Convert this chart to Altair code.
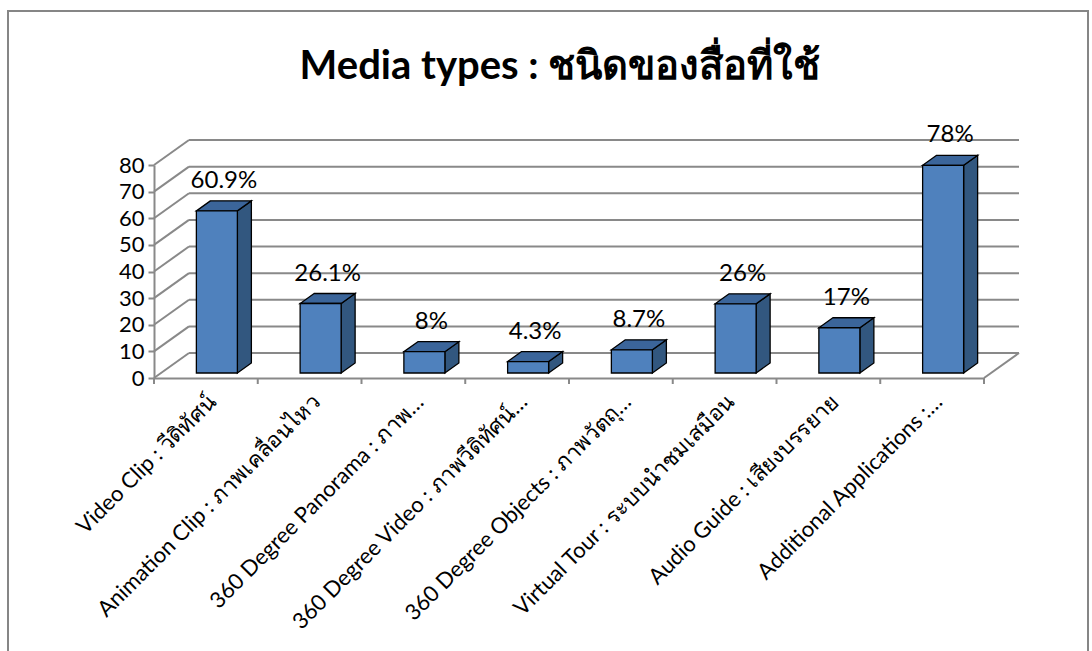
import json
import altair as alt
import pandas as pd

# ---- chart values -------------------------------------------------------
categories = [
    "Video Clip : วีดิทัศน์",
    "Animation Clip : ภาพเคลื่อนไหว",
    "360 Degree Panorama : ภาพ…",
    "360 Degree Video : ภาพวีดิทัศน์…",
    "360 Degree Objects : ภาพวัตถุ…",
    "Virtual Tour : ระบบนำชมเสมือน",
    "Audio Guide : เสียงบรรยาย",
    "Additional Applications :…",
]
values = [60.9, 26.1, 8, 4.3, 8.7, 26, 17, 78]
y_ticks = [0, 10, 20, 30, 40, 50, 60, 70, 80]
title_text = "Media types : ชนิดของสื่อที่ใช้"

# ---- layout / style -----------------------------------------------------
W, H = 830, 213                      # front plane of the plot
PAD = {"left": 154, "top": 165, "right": 1092 - 154 - 830, "bottom": 651 - 165 - 213}
N = len(categories)
Y_MAX = 80
PX = W / N                           # pixels per category
PY = H / Y_MAX                       # pixels per value unit

WALL_DX, WALL_DY = 35 / PX, 25 / PY  # depth of the floor / back wall
FACE_DX, FACE_DY = 11 / PX, 5 / PY   # where the bar front faces sit
BAR_HW = 20.5 / PX                   # half width of a bar
BAR_DX, BAR_DY = 14 / PX, 10 / PY    # depth of a bar

FRONT = "#4F81BD"
TOP = "#3B659A"
SIDE = "#32577F"
GRID = "#898989"
FONT = "Lato"

xs = alt.Scale(domain=[0, N], nice=False, zero=False)
ys = alt.Scale(domain=[0, Y_MAX], nice=False, zero=False)

label_expr = json.dumps(categories, ensure_ascii=False) + "[floor(datum.value)]"
x_axis = alt.Axis(
    values=[i + 0.5 for i in range(N)], labelExpr=label_expr, title=None,
    labelAngle=-45, labelAlign="right", labelBaseline="middle",
    labelPadding=20, labelOffset=6, tickSize=0, labelFontSize=22, labelFont=FONT,
    labelColor="black", domainColor=GRID, domainWidth=2,
    labelOverlap=False, labelLimit=400, grid=False, zindex=1,
)
y_axis = alt.Axis(
    values=y_ticks, title=None, tickSize=6, tickColor=GRID, tickWidth=2,
    labelPadding=4, labelFontSize=22, labelFont=FONT, labelColor="black",
    domainColor=GRID, domainWidth=2, grid=False, zindex=1,
)


def X(field):
    return alt.X(field, scale=xs, axis=x_axis)


def Y(field):
    return alt.Y(field, scale=ys, axis=y_axis)


# ---- data tables --------------------------------------------------------
bars = pd.DataFrame({"i": range(N), "cat": categories, "v": values})
bars["c"] = bars["i"] + 0.5 + FACE_DX
bars["x0"] = bars["c"] - BAR_HW
bars["x1"] = bars["c"] + BAR_HW
bars["y0"] = FACE_DY
bars["y1"] = bars["v"] + FACE_DY
bars["lx"] = bars["c"] + BAR_DX / 2
bars["ly"] = bars["y1"] + BAR_DY
bars["label"] = [f"{v:g}%" for v in values]

rows = []
for _, b in bars.iterrows():
    for k in (0, 1):
        rows.append({
            "i": b["i"],
            # side face (vertical parallelogram)
            "sx": b["x1"] + k * BAR_DX,
            "sy0": b["y0"] + k * BAR_DY,
            "sy1": b["y1"] + k * BAR_DY,
            # top face (horizontal parallelogram)
            "ty": b["y1"] + k * BAR_DY,
            "tx0": b["x0"] + k * BAR_DX,
            "tx1": b["x1"] + k * BAR_DX,
        })
faces = pd.DataFrame(rows)

grid = pd.DataFrame({"t": y_ticks})
grid["wx0"] = 0.0
grid["wx1"] = WALL_DX
grid["wy1"] = grid["t"] + WALL_DY
grid["bx1"] = N + WALL_DX

floor_edge = pd.DataFrame({"x0": [N], "y0": [0], "x1": [N + WALL_DX], "y1": [WALL_DY]})
xticks = pd.DataFrame({"b": list(range(N + 1))})
xticks["y0"] = 0.0
xticks["y1"] = -6 / PY

# ---- layers ------------------------------------------------------------
frame = alt.Chart(pd.DataFrame({"f": [0]})).mark_rect(
    fill="transparent", stroke="#868686", strokeWidth=2
).encode(
    x=alt.value(-146), x2=alt.value(934), y=alt.value(-154), y2=alt.value(520)
)

left_wall = alt.Chart(grid).mark_rule(color=GRID, strokeWidth=2).encode(
    x=X("wx0:Q"), x2="wx1:Q", y=Y("t:Q"), y2="wy1:Q",
)

back_wall = alt.Chart(grid).mark_rule(color=GRID, strokeWidth=2).encode(
    x=X("wx1:Q"), x2="bx1:Q", y=Y("wy1:Q"),
)

floor_right = alt.Chart(floor_edge).mark_rule(color=GRID, strokeWidth=2).encode(
    x=X("x0:Q"), x2="x1:Q", y=Y("y0:Q"), y2="y1:Q",
)

tick_marks = alt.Chart(xticks).mark_rule(color=GRID, strokeWidth=2).encode(
    x=X("b:Q"), y=Y("y0:Q"), y2="y1:Q",
)

side = alt.Chart(faces).mark_area(
    color=SIDE, stroke="black", strokeWidth=1.3, opacity=1
).encode(
    x=X("sx:Q"), y=Y("sy0:Q"), y2="sy1:Q", detail="i:N",
)

top = alt.Chart(faces).mark_area(
    color=TOP, stroke="black", strokeWidth=1.3, opacity=1, orient="horizontal"
).encode(
    y=Y("ty:Q"), x=X("tx0:Q"), x2="tx1:Q", detail="i:N",
)

front = alt.Chart(bars).mark_rect(
    color=FRONT, stroke="black", strokeWidth=1.3
).encode(
    x=X("x0:Q"), x2="x1:Q", y=Y("y0:Q"), y2="y1:Q",
)

value_text = alt.Chart(bars).mark_text(
    baseline="bottom", dy=-8, fontSize=24, font=FONT, color="black"
).encode(
    x=X("lx:Q"), y=Y("ly:Q"), text="label:N",
)

chart = alt.layer(
    frame, left_wall, back_wall, floor_right, tick_marks, side, top, front, value_text
).properties(
    width=W, height=H,
    padding=PAD,
    autosize=alt.AutoSizeParams(type="none"),
    title=alt.TitleParams(
        title_text, anchor="middle", fontSize=40, font=FONT, fontWeight="bold",
        color="black", dx=-9, offset=-77,
    ),
).configure_view(stroke=None)

chart.save("out.html", embed_options={"renderer": "svg", "actions": False})
